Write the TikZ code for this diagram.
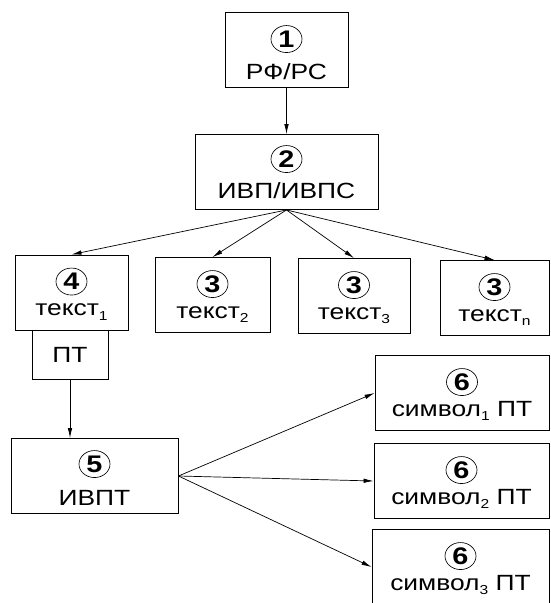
\documentclass[tikz,border=0pt]{standalone}
\usepackage{fontspec}
\setmainfont{Liberation Sans}[FakeStretch=1.2]
\usetikzlibrary{arrows.meta,shapes.geometric}
\newcommand{\lowidx}[1]{\raisebox{-4.5pt}{\fontsize{13}{13}\selectfont #1}}

\begin{document}
\begin{tikzpicture}[x=1pt,y=-1pt,font=\fontsize{22}{26}\selectfont]

      \useasboundingbox (0,0) rectangle (551,603);

      \begin{scope}[every node/.style={draw,line width=0.9pt,minimum height=75pt,inner sep=0pt}]
        \node[minimum width=123pt] (rf)   at (286.5,50)  {};
        \node[minimum width=183pt] (ivp)  at (286.5,172) {};
        \node[minimum width=113pt] (t1)   at (71.5,292.5) {};
        \node[minimum width=115pt] (t2)   at (212.5,295) {};
        \node[minimum width=112pt] (t3)   at (354,296)   {};
        \node[minimum width=109pt] (tn)   at (494.5,298) {};
        \node[minimum width=167pt] (ivpt) at (94.5,476)  {};
        \node[minimum width=174pt] (s1)   at (462,393)   {};
        \node[minimum width=175pt] (s2)   at (461.5,481) {};
        \node[minimum width=177pt] (s3)   at (460.5,567) {};
        \node[minimum width=76pt,minimum height=49pt,anchor=north] (pt) at ([xshift=-1.5pt]t1.south) {ПТ};
      \end{scope}

      \begin{scope}[every node/.style={ellipse,draw,line width=0.65pt,minimum width=31pt,minimum height=27pt,inner sep=0pt,font=\fontsize{24}{24}\selectfont\bfseries}]
        \node (c1) at ([yshift=-27pt]rf.north)   {1};
        \node (c2) at ([yshift=-25pt]ivp.north)  {2};
        \node (c4) at ([yshift=-27pt]t1.north)   {4};
        \node (c3a) at ([yshift=-27pt]t2.north)  {3};
        \node (c3b) at ([yshift=-27pt]t3.north)  {3};
        \node (c3c) at ([yshift=-27pt]tn.north)  {3};
        \node (c5) at ([yshift=-26pt]ivpt.north) {5};
        \node (c6a) at ([yshift=-27pt]s1.north)  {6};
        \node (c6b) at ([yshift=-27pt]s2.north)  {6};
        \node (c6c) at ([yshift=-27pt]s3.north)  {6};
      \end{scope}

      \begin{scope}[every node/.style={anchor=base,inner sep=0pt}]
        \node (l1) at ([yshift=-67pt]rf.north)   {РФ/РС};
        \node (l2) at ([yshift=-64pt]ivp.north)  {ИВП/ИВПС};
        \node (l4) at ([yshift=-61pt]t1.north)   {текст\lowidx{1}};
        \node (l3a) at ([yshift=-61pt]t2.north)  {текст\lowidx{2}};
        \node (l3b) at ([yshift=-61pt]t3.north)  {текст\lowidx{3}};
        \node (l3c) at ([yshift=-61pt]tn.north)  {текст\lowidx{n}};
        \node (l5) at ([yshift=-67pt]ivpt.north) {ИВПТ};
        \node (l6a) at ([yshift=-61pt]s1.north)  {символ\lowidx{1} ПТ};
        \node (l6b) at ([yshift=-61pt]s2.north)  {символ\lowidx{2} ПТ};
        \node (l6c) at ([yshift=-61pt]s3.north)  {символ\lowidx{3} ПТ};
      \end{scope}

      \begin{scope}[every edge/.style={draw,line width=0.7pt,-{Latex[length=10pt,width=4.5pt]}}]
        \path (rf) edge (ivp);
        \foreach \t in {t1,t2,t3,tn}
          \path (ivp.south) edge (\t.north);
        \path (pt.south) edge (pt.south |- ivpt.north);
        \foreach \s in {s1,s2,s3}
          \path (ivpt.east) edge (\s.west);
      \end{scope}

    \end{tikzpicture}
\end{document}
